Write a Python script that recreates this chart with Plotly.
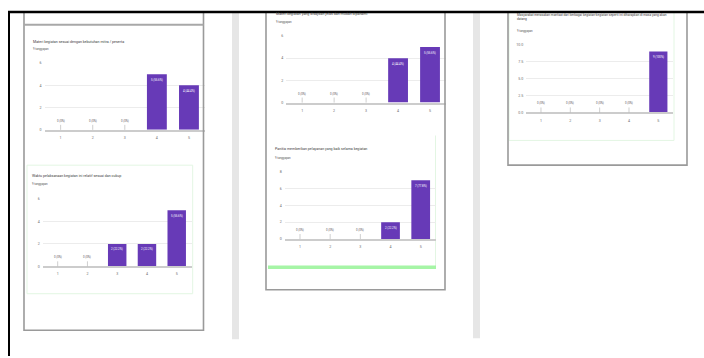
import plotly.graph_objects as go

W, H = 704, 358

# ---------------- data ----------------
categories = ["1", "2", "3", "4", "5"]
title_1 = "Materi kegiatan sesuai dengan kebutuhan mitra / peserta"
values_1 = [0, 0, 0, 5, 4]
title_2 = "Waktu pelaksanaan kegiatan ini relatif sesuai dan cukup"
values_2 = [0, 0, 2, 2, 5]
title_3 = "Materi kegiatan yang disajikan jelas dan mudah dipahami"
values_3 = [0, 0, 0, 4, 5]
title_4 = "Panitia memberikan pelayanan yang baik selama kegiatan"
values_4 = [0, 0, 0, 2, 7]
title_5 = ("Masyarakat merasakan manfaat dari berbagai kegiatan-kegiatan seperti ini diharapkan di masa yang akan"
           "<br>datang")
values_5 = [0, 0, 0, 0, 9]
responses_label = "9 tanggapan"
y_ticks_6 = [0, 2, 4, 6]
y_ticks_8 = [0, 2, 4, 6, 8]
y_ticks_10 = [0, 2.5, 5, 7.5, 10]


def px(x):
    return x / W


def py(y):
    return 1 - y / H


def pct_text(v, total):
    p = round(100 * v / total, 1)
    s = ("%.1f" % p).rstrip("0").rstrip(".")
    return f"{v} ({s}%)"


# chart layout: (values, title, ticks, x-domain px, y px of top tick, y px of zero, title pos, title size)
charts = [
    (values_1, title_1, y_ticks_6, (44.6, 205.0), 61.7, 129.3, (31, 40), 3.6),
    (values_2, title_2, y_ticks_6, (42.8, 191.6), 199.3, 267.3, (30, 176), 3.6),
    (values_3, title_3, y_ticks_6, (286.2, 446.0), 34.3, 101.7, (274, 12), 3.6),
    (values_4, title_4, y_ticks_8, (284.9, 435.8), 171.7, 239.7, (273, 149), 3.6),
    (values_5, title_5, y_ticks_10, (526.3, 673.0), 43.3, 111.7, (515, 15.5), 3.2),
]

PURPLE = "#673ab7"
fig = go.Figure()
annotations = []
shapes = []

# --- background decorations (below) ---
# gray separator strips
for x0, x1, y1 in [(232, 239, 341), (473, 480, 340)]:
    shapes.append(dict(type="rect", xref="paper", yref="paper", x0=px(x0), x1=px(x1), y0=py(10), y1=py(y1),
                       fillcolor="#e6e6e6", line=dict(width=0), layer="below"))
# faint green card outlines
for x0, y0, x1, y1 in [(27, 165, 192.7, 295), (509, 10, 674, 140)]:
    shapes.append(dict(type="rect", xref="paper", yref="paper", x0=px(x0), x1=px(x1), y0=py(y0), y1=py(y1),
                       fillcolor="rgba(0,0,0,0)", line=dict(color="#e3f6e3", width=1), layer="below"))
shapes.append(dict(type="line", xref="paper", yref="paper", x0=px(435.5), x1=px(435.5), y0=py(135), y1=py(267),
                   line=dict(color="#e3f6e3", width=1), layer="below"))
# green bar under chart 4
shapes.append(dict(type="rect", xref="paper", yref="paper", x0=px(268), x1=px(436), y0=py(266.5), y1=py(270),
                   fillcolor="#a6f5a6", line=dict(width=0)))

for i, (vals, title, ticks, (xd0, xd1), ytop, yzero, (tx, ty), tsize) in enumerate(charts):
    n = i + 1
    xa = "x" if n == 1 else f"x{n}"
    ya = "y" if n == 1 else f"y{n}"
    xkey = "xaxis" if n == 1 else f"xaxis{n}"
    ykey = "yaxis" if n == 1 else f"yaxis{n}"
    total = sum(vals)
    xs = list(range(1, len(categories) + 1))
    fig.add_trace(go.Bar(x=xs, y=vals, xaxis=xa, yaxis=ya, marker=dict(color=PURPLE, line=dict(width=0)),
                         showlegend=False, hoverinfo="skip"))
    fig.update_layout({
        xkey: dict(domain=[px(xd0), px(xd1)], anchor=ya, range=[0.5, 5.5], tickvals=xs, ticktext=categories,
                   showgrid=False, zeroline=False, showline=True, linecolor="#cccccc", linewidth=1.5,
                   ticks="", tickfont=dict(size=3.6, color="#6d6d6d", family="Roboto"), ticklabelstandoff=3,
                   fixedrange=True),
        ykey: dict(domain=[py(yzero), py(ytop)], anchor=xa, range=[ticks[0], ticks[-1]], tickvals=ticks,
                   tickformat=".1f" if ticks[-1] == 10 else "d",
                   showgrid=True, gridcolor="#ececec", gridwidth=0.8, zeroline=False, showline=False, ticks="",
                   tickfont=dict(size=3.6, color="#6d6d6d", family="Roboto"), ticklabelstandoff=2,
                   fixedrange=True),
    })
    # titles
    annotations.append(dict(xref="paper", yref="paper", x=px(tx), y=py(ty), xanchor="left", yanchor="middle",
                            text=title, showarrow=False, align="left",
                            font=dict(size=tsize, color="#3c3c3c", family="Roboto")))
    sub_y = {0: 48, 1: 184, 2: 20, 3: 157.5, 4: 29}[i]
    annotations.append(dict(xref="paper", yref="paper", x=px(tx), y=py(sub_y), xanchor="left", yanchor="middle",
                            text=responses_label, showarrow=False,
                            font=dict(size=2.8, color="#555555", family="Roboto")))
    # value labels
    for x, v in zip(xs, vals):
        label = pct_text(v, total)
        if v == 0:
            annotations.append(dict(xref=xa, yref=ya, x=x, y=0, text=label, showarrow=True, arrowhead=0,
                                    arrowwidth=0.5, arrowcolor="#9e9e9e", ax=0, ay=-5, standoff=0,
                                    yanchor="bottom", font=dict(size=2.8, color="#555555", family="Roboto")))
        else:
            annotations.append(dict(xref=xa, yref=ya, x=x, y=v, text=label, showarrow=False, yanchor="top",
                                    yshift=-1.5, font=dict(size=2.8, color="#ffffff", family="Roboto")))

# --- card borders ---
for x0, y0, x1, y1 in [(24, 10, 203.5, 332), (266, 10, 445, 291), (508, 10, 687, 165)]:
    shapes.append(dict(type="rect", xref="paper", yref="paper", x0=px(x0), x1=px(x1), y0=py(y0), y1=py(y1),
                       fillcolor="rgba(0,0,0,0)", line=dict(color="#9a9a9a", width=1.6)))
shapes.append(dict(type="line", xref="paper", yref="paper", x0=px(24), x1=px(203.5), y0=py(23), y1=py(23),
                   line=dict(color="#a8a8a8", width=2)))
# outer black frame lines
shapes.append(dict(type="line", xref="paper", yref="paper", x0=px(8), x1=1, y0=py(10), y1=py(10),
                   line=dict(color="#000000", width=2.5)))
shapes.append(dict(type="line", xref="paper", yref="paper", x0=px(9), x1=px(9), y0=py(9), y1=0,
                   line=dict(color="#000000", width=2)))

fig.update_layout(width=W, height=H, margin=dict(l=0, r=0, t=0, b=0), paper_bgcolor="white",
                  plot_bgcolor="rgba(0,0,0,0)", bargap=0.38, annotations=annotations, shapes=shapes,
                  font=dict(family="Roboto"))
fig.write_html("out.html")
